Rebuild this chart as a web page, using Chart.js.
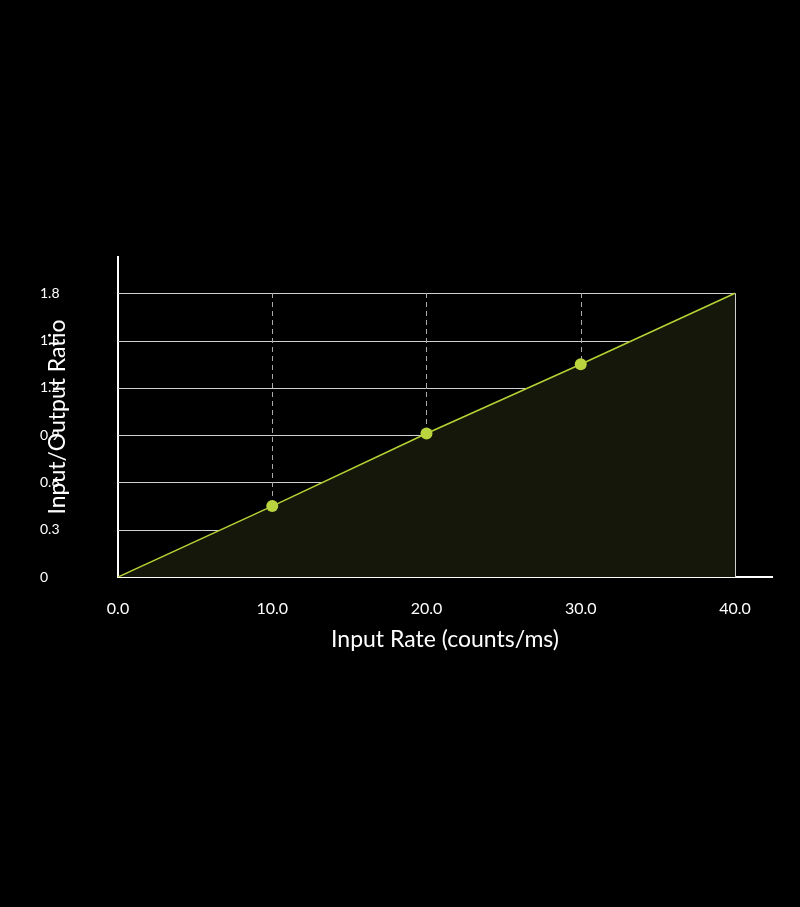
<!DOCTYPE html>
<html>
<head>
<meta charset="utf-8">
<script src="https://cdn.jsdelivr.net/npm/chart.js@4"></script>
<style>
  html, body { margin: 0; padding: 0; background: #000; }
  #wrap { width: 800px; height: 907px; }
</style>
</head>
<body>
<div id="wrap"><canvas id="chart"></canvas></div>
<script>
// Data
const inputRate = [0, 10, 20, 30, 40];
const ioRatio = [0, 0.45, 0.91, 1.35, 1.8];
const xTicks = [0, 10, 20, 30, 40];
const yTicks = [0, 0.3, 0.6, 0.9, 1.2, 1.5, 1.8];

const LINE = '#b5d334';
const FONT = 'Lato, "Open Sans", sans-serif';

// Grid: solid horizontals, dashed verticals, solid right edge
const gridPlugin = {
    id: 'grid',
    beforeDatasetsDraw(chart) {
        const { ctx, scales: { x, y } } = chart;
        const x0 = x.getPixelForValue(0), x1 = x.getPixelForValue(40);
        const y0 = y.getPixelForValue(0), y1 = y.getPixelForValue(1.8);
        ctx.save();
        ctx.strokeStyle = '#cfcfcf';
        ctx.lineWidth = 1;
        yTicks.slice(1).forEach(v => {
            const py = Math.round(y.getPixelForValue(v)) + 0.5;
            ctx.beginPath(); ctx.moveTo(x0, py); ctx.lineTo(x1, py); ctx.stroke();
        });
        ctx.beginPath(); ctx.moveTo(Math.round(x1) + 0.5, y0); ctx.lineTo(Math.round(x1) + 0.5, y1); ctx.stroke();
        ctx.strokeStyle = '#aaaaaa';
        ctx.setLineDash([5, 4]);
        xTicks.slice(1, -1).forEach(v => {
            const px = Math.round(x.getPixelForValue(v)) + 0.5;
            ctx.beginPath(); ctx.moveTo(px, y0); ctx.lineTo(px, y1); ctx.stroke();
        });
        ctx.restore();
    }
};

new Chart(document.getElementById('chart'), {
    type: 'line',
    data: {
        datasets: [{
            data: inputRate.map((v, i) => ({ x: v, y: ioRatio[i] })),
            borderColor: LINE,
            borderWidth: 1.5,
            backgroundColor: '#15170b',
            fill: 'origin',
            tension: 0,
            pointStyle: 'circle',
            pointRadius: ctx => (ctx.dataIndex === 0 || ctx.dataIndex === 4) ? 0 : 6,
            pointBackgroundColor: '#b9d43f',
            pointBorderWidth: 0
        }]
    },
    options: {
        responsive: true,
        maintainAspectRatio: false,
        animation: false,
        layout: { padding: { left: 40, top: 257, right: 28, bottom: 250 } },
        plugins: { legend: { display: false }, tooltip: { enabled: false } },
        scales: {
            x: {
                type: 'linear', min: 0, max: 42.4,
                afterBuildTicks: s => { s.ticks = xTicks.map(v => ({ value: v })); },
                afterFit: s => { s.height = 80; },
                grid: { display: false },
                border: { display: true, color: '#ffffff', width: 2 },
                ticks: { color: '#ffffff', font: { family: FONT, size: 16 }, padding: 14,
                         callback: v => v.toFixed(1) },
                title: { display: true, text: 'Input Rate (counts/ms)', color: '#ffffff',
                         font: { family: FONT, size: 23 }, padding: { top: 0 } }
            },
            y: {
                type: 'linear', min: 0, max: 2.03,
                afterBuildTicks: s => { s.ticks = yTicks.map(v => ({ value: v })); },
                afterFit: s => { s.width = 78; },
                grid: { display: false },
                border: { display: true, color: '#ffffff', width: 2 },
                ticks: { color: '#ffffff', font: { family: FONT, size: 14 }, crossAlign: 'far',
                         callback: v => v === 0 ? '0' : v.toFixed(1) },
                title: { display: true, text: 'Input/Output Ratio', color: '#ffffff',
                         font: { family: FONT, size: 23 }, padding: { bottom: 6 } }
            }
        }
    },
    plugins: [gridPlugin]
});
</script>
</body>
</html>
